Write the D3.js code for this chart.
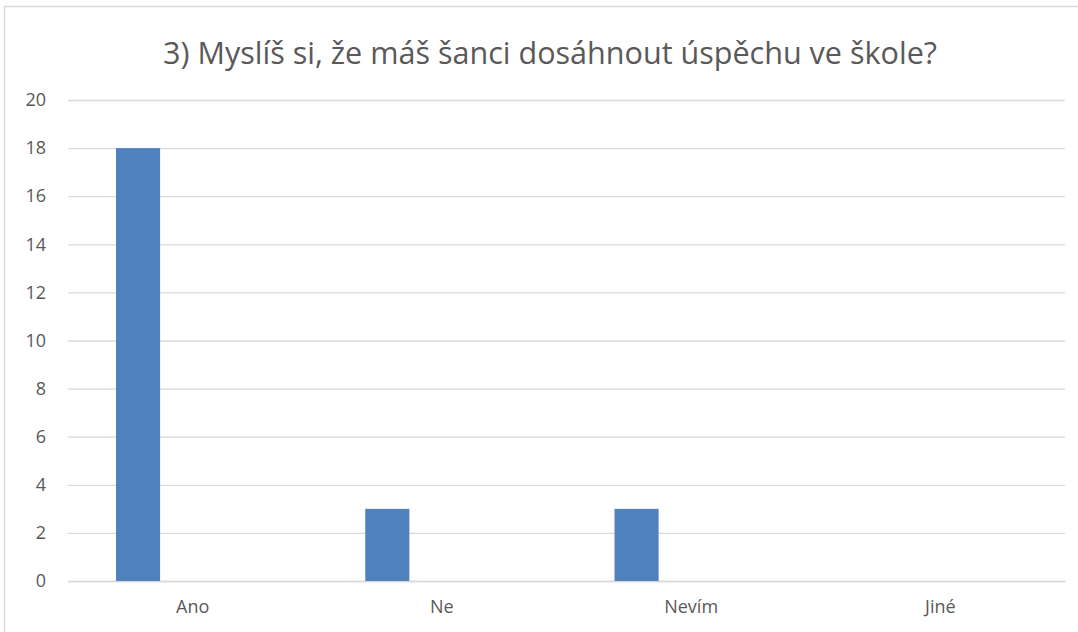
<!DOCTYPE html>
<html>
<head>
<meta charset="utf-8">
<script src="https://cdn.jsdelivr.net/npm/d3@7"></script>
<style>
  body { margin: 0; background: #fff; }
  svg { display: block; }
</style>
</head>
<body>
<div id="pic"></div>
<script>
// data
var title = "3) Myslíš si, že máš šanci dosáhnout úspěchu ve škole?";
var categories = ["Ano", "Ne", "Nevím", "Jiné"];
var seriesNames = ["Řada 1", "Řada 2"];
var series1 = [18, 3, 3, 0];
var series2 = [0, 0, 0, 0];
var yTicks = [0, 2, 4, 6, 8, 10, 12, 14, 16, 18, 20];

var width = 1078, height = 632;
var margin = { top: 100, right: 13, bottom: 51, left: 68 };
var plotW = width - margin.left - margin.right,
    plotH = height - margin.top - margin.bottom;

var svg = d3.select("#pic").append("svg")
    .attr("width", width)
    .attr("height", height);

//chart border
svg.append("rect")
    .attr("x", 4.5).attr("y", 6.5)
    .attr("width", 1200).attr("height", 800)
    .attr("fill", "#fff")
    .attr("stroke", "#d9d9d9")
    .attr("stroke-width", 1.5);

svg.append("text")
    .attr("x", 550)
    .attr("y", 64)
    .attr("text-anchor", "middle")
    .attr("textLength", 774)
    .attr("lengthAdjust", "spacingAndGlyphs")
    .style("font-family", "'Liberation Sans Narrow', 'Open Sans', sans-serif")
    .style("font-size", "31px")
    .style("fill", "#595959")
    .text(title);

var g = svg.append("g")
    .attr("transform", "translate(" + margin.left + "," + margin.top + ")");

var x0 = d3.scaleBand()
    .domain(categories)
    .range([0, plotW]);

//inner scale for the clustered series
var x1 = d3.scaleBand()
    .domain(seriesNames)
    .range([0, x0.bandwidth()])
    .paddingInner(0.596)
    .paddingOuter(0.44);

var y = d3.scaleLinear()
    .domain([0, 20])
    .range([plotH, 0]);

var labelFont = "'Open Sans', 'Liberation Sans', sans-serif";

//gridlines
var yAxis = d3.axisLeft(y)
    .tickValues(yTicks)
    .tickSize(-plotW)
    .tickPadding(22)
    .tickFormat(d3.format("d"));

var yg = g.append("g").call(yAxis);
yg.select(".domain").remove();
yg.selectAll(".tick line")
    .attr("stroke", "#d9d9d9")
    .attr("stroke-width", 1.3);
yg.selectAll(".tick text")
    .attr("font-size", 18)
    .attr("font-family", labelFont)
    .attr("fill", "#595959");

var xAxis = d3.axisBottom(x0).tickSize(0).tickPadding(19);
var xg = g.append("g")
    .attr("transform", "translate(0," + plotH + ")")
    .call(xAxis);
xg.select(".domain").attr("stroke", "#d9d9d9").attr("stroke-width", 1.5);
xg.selectAll(".tick text")
    .attr("font-size", 18)
    .attr("font-family", labelFont)
    .attr("fill", "#595959");

var rows = categories.map(function(c, i) {
    return { cat: c, values: [
        { key: seriesNames[0], value: series1[i] },
        { key: seriesNames[1], value: series2[i] }
    ] };
});

g.append("g").selectAll("g")
    .data(rows)
    .enter().append("g")
    .attr("transform", function(d) { return "translate(" + x0(d.cat) + ",0)"; })
    .selectAll("rect")
    .data(function(d) { return d.values; })
    .enter().append("rect")
    .attr("x", function(d) { return x1(d.key); })
    .attr("width", x1.bandwidth())
    .attr("y", function(d) { return y(d.value); })
    .attr("height", function(d) { return plotH - y(d.value); })
    .attr("fill", "#4f81bd");
</script>
</body>
</html>
